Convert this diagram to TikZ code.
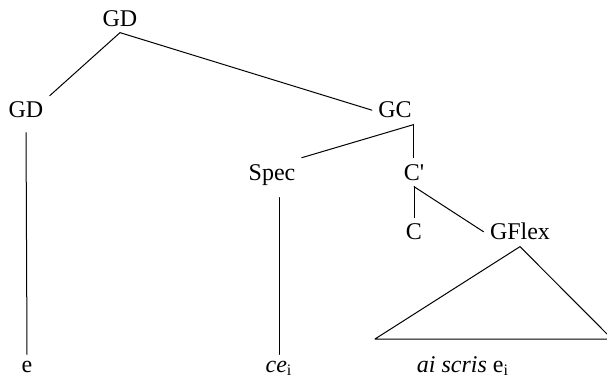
\documentclass[tikz,border=0pt]{standalone}
\usepackage{fontspec}
\setmainfont{Liberation Serif}
\usetikzlibrary{calc}

\begin{document}
\begin{tikzpicture}[x=0.5pt,y=-0.5pt,line cap=round,line join=round,
  lbl/.style={anchor=base,inner sep=3pt,font=\fontsize{12}{14}\selectfont},
  branch/.style={line width=0.5pt}]
  \useasboundingbox (0,0) rectangle (607,380);
  % labels of the tree
  \node[lbl] (gdtop) at (120,26) {GD};
  \node[lbl] (gdleft) at (26,118) {GD};
  \node[lbl] (gc) at (395,118) {GC};
  \node[lbl] (spec) at (272,180) {Spec};
  \node[lbl] (cbar) at (414,180) {C\textquotesingle};
  \node[lbl] (c) at (414,240) {C};
  \node[lbl] (gflex) at (520,240) {GFlex};
  \node[lbl] (e) at (27,372) {e};
  \node[lbl] (ce) at (279,372) {\textit{ce}\textsubscript{i}};
  \node[lbl] (aiscris) at (463,372) {\textit{ai scris} e\textsubscript{i}};
  \coordinate (tril) at (375,339);
  \coordinate (trir) at (612,339);
  % branches
  \draw[branch] (gdtop.south) -- (gdleft.north east);
  \draw[branch] (gdtop.south) -- (gc.west);
  \draw[branch,shorten <=4pt] (gdleft.south) -- (e.north);
  \draw[branch] (gc.-38) -- (spec.north east);
  \draw[branch] (gc.-38) -- (gc.-38 |- cbar.north);
  \draw[branch,shorten <=3pt] (ce.north |- spec.south) -- (ce.north);
  \draw[branch] (cbar.south) -- (c.north);
  \draw[branch] (cbar.south) -- (gflex.west);
  \draw[branch] (gflex.south) -- (tril) -- (trir) -- cycle;
\end{tikzpicture}
\end{document}
